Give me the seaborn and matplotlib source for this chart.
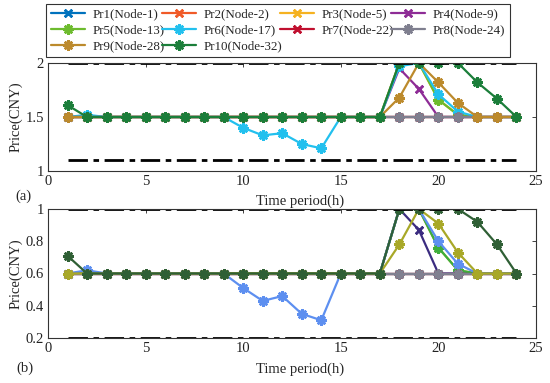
import numpy as np
import pandas as pd
import seaborn as sns
import matplotlib.pyplot as plt

sns.set_theme(style="white")
plt.rcParams['font.family'] = ['Liberation Serif', 'DejaVu Serif']
plt.rcParams['mathtext.fontset'] = 'stix'

hours = list(range(1, 25))
names = ['Pr1(Node-1)', 'Pr2(Node-2)', 'Pr3(Node-5)', 'Pr4(Node-9)',
         'Pr5(Node-13)', 'Pr6(Node-17)', 'Pr7(Node-22)', 'Pr8(Node-24)',
         'Pr9(Node-28)', 'Pr10(Node-32)']

# (a) prices
pr1_a = [1.5, 1.5, 1.5, 1.5, 1.5, 1.5, 1.5, 1.5, 1.5, 1.5, 1.5, 1.5, 1.5, 1.5, 1.5, 1.5, 1.5, 1.5, 1.5, 1.5, 1.5, 1.5, 1.5, 1.5]
pr2_a = [1.5, 1.5, 1.5, 1.5, 1.5, 1.5, 1.5, 1.5, 1.5, 1.5, 1.5, 1.5, 1.5, 1.5, 1.5, 1.5, 1.5, 1.5, 1.5, 1.5, 1.5, 1.5, 1.5, 1.5]
pr3_a = [1.5, 1.5, 1.5, 1.5, 1.5, 1.5, 1.5, 1.5, 1.5, 1.5, 1.5, 1.5, 1.5, 1.5, 1.5, 1.5, 1.5, 2.0, 2.0, 1.66, 1.52, 1.5, 1.5, 1.5]
pr4_a = [1.5, 1.5, 1.5, 1.5, 1.5, 1.5, 1.5, 1.5, 1.5, 1.5, 1.5, 1.5, 1.5, 1.5, 1.5, 1.5, 1.5, 1.95, 1.76, 1.5, 1.5, 1.5, 1.5, 1.5]
pr5_a = [1.5, 1.5, 1.5, 1.5, 1.5, 1.5, 1.5, 1.5, 1.5, 1.5, 1.5, 1.5, 1.5, 1.5, 1.5, 1.5, 1.5, 2.0, 2.0, 1.66, 1.52, 1.5, 1.5, 1.5]
pr6_a = [1.5, 1.52, 1.5, 1.5, 1.5, 1.5, 1.5, 1.5, 1.5, 1.40, 1.33, 1.35, 1.25, 1.21, 1.5, 1.5, 1.5, 1.97, 2.0, 1.71, 1.55, 1.5, 1.5, 1.5]
pr7_a = [1.5, 1.5, 1.5, 1.5, 1.5, 1.5, 1.5, 1.5, 1.5, 1.5, 1.5, 1.5, 1.5, 1.5, 1.5, 1.5, 1.5, 1.5, 1.5, 1.5, 1.5, 1.5, 1.5, 1.5]
pr8_a = [1.5, 1.5, 1.5, 1.5, 1.5, 1.5, 1.5, 1.5, 1.5, 1.5, 1.5, 1.5, 1.5, 1.5, 1.5, 1.5, 1.5, 1.5, 1.5, 1.5, 1.5, 1.5, 1.5, 1.5]
pr9_a = [1.5, 1.5, 1.5, 1.5, 1.5, 1.5, 1.5, 1.5, 1.5, 1.5, 1.5, 1.5, 1.5, 1.5, 1.5, 1.5, 1.5, 1.68, 2.0, 1.82, 1.63, 1.5, 1.5, 1.5]
pr10_a = [1.61, 1.5, 1.5, 1.5, 1.5, 1.5, 1.5, 1.5, 1.5, 1.5, 1.5, 1.5, 1.5, 1.5, 1.5, 1.5, 1.5, 2.0, 2.0, 2.0, 2.0, 1.82, 1.67, 1.5]
limits_a = [1.1, 2.0]

# (b) prices
pr1_b = [0.6, 0.6, 0.6, 0.6, 0.6, 0.6, 0.6, 0.6, 0.6, 0.6, 0.6, 0.6, 0.6, 0.6, 0.6, 0.6, 0.6, 0.6, 0.6, 0.6, 0.6, 0.6, 0.6, 0.6]
pr2_b = [0.6, 0.6, 0.6, 0.6, 0.6, 0.6, 0.6, 0.6, 0.6, 0.6, 0.6, 0.6, 0.6, 0.6, 0.6, 0.6, 0.6, 0.6, 0.6, 0.6, 0.6, 0.6, 0.6, 0.6]
pr3_b = [0.6, 0.6, 0.6, 0.6, 0.6, 0.6, 0.6, 0.6, 0.6, 0.6, 0.6, 0.6, 0.6, 0.6, 0.6, 0.6, 0.6, 1.0, 1.0, 0.76, 0.62, 0.6, 0.6, 0.6]
pr4_b = [0.6, 0.6, 0.6, 0.6, 0.6, 0.6, 0.6, 0.6, 0.6, 0.6, 0.6, 0.6, 0.6, 0.6, 0.6, 0.6, 0.6, 1.0, 0.87, 0.6, 0.6, 0.6, 0.6, 0.6]
pr5_b = [0.6, 0.6, 0.6, 0.6, 0.6, 0.6, 0.6, 0.6, 0.6, 0.6, 0.6, 0.6, 0.6, 0.6, 0.6, 0.6, 0.6, 1.0, 1.0, 0.76, 0.62, 0.6, 0.6, 0.6]
pr6_b = [0.6, 0.62, 0.6, 0.6, 0.6, 0.6, 0.6, 0.6, 0.6, 0.51, 0.43, 0.46, 0.35, 0.31, 0.6, 0.6, 0.6, 1.0, 1.0, 0.80, 0.66, 0.6, 0.6, 0.6]
pr7_b = [0.6, 0.6, 0.6, 0.6, 0.6, 0.6, 0.6, 0.6, 0.6, 0.6, 0.6, 0.6, 0.6, 0.6, 0.6, 0.6, 0.6, 0.6, 0.6, 0.6, 0.6, 0.6, 0.6, 0.6]
pr8_b = [0.6, 0.6, 0.6, 0.6, 0.6, 0.6, 0.6, 0.6, 0.6, 0.6, 0.6, 0.6, 0.6, 0.6, 0.6, 0.6, 0.6, 0.6, 0.6, 0.6, 0.6, 0.6, 0.6, 0.6]
pr9_b = [0.6, 0.6, 0.6, 0.6, 0.6, 0.6, 0.6, 0.6, 0.6, 0.6, 0.6, 0.6, 0.6, 0.6, 0.6, 0.6, 0.6, 0.78, 1.0, 0.91, 0.73, 0.6, 0.6, 0.6]
pr10_b = [0.71, 0.6, 0.6, 0.6, 0.6, 0.6, 0.6, 0.6, 0.6, 0.6, 0.6, 0.6, 0.6, 0.6, 0.6, 0.6, 0.6, 1.0, 1.0, 1.0, 1.0, 0.92, 0.78, 0.6]
limits_b = [0.2, 1.0]

series_a = [pr1_a, pr2_a, pr3_a, pr4_a, pr5_a, pr6_a, pr7_a, pr8_a, pr9_a, pr10_a]
series_b = [pr1_b, pr2_b, pr3_b, pr4_b, pr5_b, pr6_b, pr7_b, pr8_b, pr9_b, pr10_b]

colors_a = ['#0072BD', '#F05A28', '#F5B221', '#8E2C96', '#6DBB2E',
            '#22C0EE', '#C0102F', '#7F7F8F', '#BC8A2C', '#1B7E3A']
colors_b = ['#3060C0', '#C86030', '#C8B030', '#3B2C80', '#3DAE3D',
            '#5D8FF0', '#A02040', '#808090', '#A8A828', '#2F5F35']
asterisk = (8, 2, 0)
cross = (4, 2, 45)
markers = [cross, cross, cross, cross, asterisk, asterisk, cross, asterisk, asterisk, asterisk]

fig = plt.figure(figsize=(5.5, 3.83), dpi=100)
ax_a = fig.add_axes([48/550, 1-171/383, 488/550, 108/383])
ax_b = fig.add_axes([48/550, 1-338/383, 488/550, 129/383])

def draw_panel(ax, series, colors, limits, ylim, yticks, yticklabels):
    for vals, name, c, m in zip(series, names, colors, markers):
        sns.lineplot(x=hours, y=vals, ax=ax, color=c, marker=m, markersize=7.5,
                     markeredgewidth=1.8, markeredgecolor=c, linewidth=1.6,
                     label=name, legend=False)
    for lim in limits:
        sns.lineplot(x=[hours[0], hours[-1]], y=[lim, lim], ax=ax, color='black',
                     linewidth=2, linestyle=(0, (7, 2, 2, 2)), legend=False)
    ax.set_xlim(0, 25)
    ax.set_ylim(*ylim)
    ax.set_xticks([0, 5, 10, 15, 20, 25])
    ax.set_yticks(yticks)
    ax.set_yticklabels(yticklabels)
    ax.tick_params(direction='in', length=3, width=0.6, top=True, right=True,
                   labelsize=10.5, colors='#222222', pad=3)
    for sp in ax.spines.values():
        sp.set_linewidth(0.8)
        sp.set_color('#333333')
    ax.set_xlabel('')
    ax.set_ylabel('Price(CNY)', fontsize=10.5, labelpad=2)

draw_panel(ax_a, series_a, colors_a, limits_a, (1, 2), [1, 1.5, 2], ['1', '1.5', '2'])
draw_panel(ax_b, series_b, colors_b, limits_b, (0.2, 1), [0.2, 0.4, 0.6, 0.8, 1],
           ['0.2', '0.4', '0.6', '0.8', '1'])

fig.text(300/550, 1-201/383, 'Time period(h)', ha='center', va='center', fontsize=10.5)
fig.text(300/550, 1-369/383, 'Time period(h)', ha='center', va='center', fontsize=10.5)
fig.text(23/550, 1-196/383, '(a)', ha='center', va='center', fontsize=10.5)
fig.text(25/550, 1-368/383, '(b)', ha='center', va='center', fontsize=10.5)

# legend filled row by row like the original
handles, labels = ax_a.get_legend_handles_labels()
order = [0, 4, 8, 1, 5, 9, 2, 6, 3, 7]
leg = fig.legend([handles[i] for i in order], [labels[i] for i in order], ncol=4,
                 loc='upper left', bbox_to_anchor=(46/550, 1-57/383, 464/550, 53/383),
                 mode='expand', fontsize=9.4,
                 frameon=True, fancybox=False, edgecolor='black', handlelength=2.6,
                 columnspacing=0.3, handletextpad=0.6, labelspacing=0.28,
                 borderpad=0.35, borderaxespad=0)
leg.get_frame().set_linewidth(0.8)

fig.savefig('out.png', dpi=100)
